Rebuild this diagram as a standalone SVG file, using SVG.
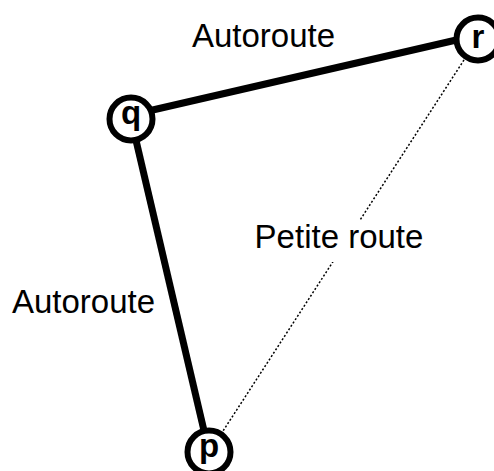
<svg xmlns="http://www.w3.org/2000/svg" width="494" height="471" viewBox="0 0 494 471">
<style>
.node circle{fill:#fff;stroke:#000;stroke-width:6}
.node text{font-family:"Liberation Sans",Arial,sans-serif;font-weight:bold;font-size:33px;text-anchor:middle;fill:#000}
.hw{stroke:#000;stroke-width:7;fill:none}
.sr{stroke:#000;stroke-width:1.5;stroke-dasharray:2,2;fill:none}
.lbl{font-family:"Liberation Sans",Arial,sans-serif;font-size:33px;text-anchor:middle;fill:#000}
</style>
<rect width="494" height="471" fill="#fff"/>
<g id="edges">
<line class="hw" x1="131" y1="115" x2="478" y2="35"/>
<line class="hw" x1="131" y1="119" x2="209" y2="452"/>
<line class="sr" x1="464" y1="60" x2="223" y2="431"/>
<rect x="252" y="220" width="176" height="42" fill="#fff"/>
<text class="lbl" x="263.5" y="47">Autoroute</text>
<text class="lbl" x="83.5" y="313">Autoroute</text>
<text class="lbl" x="339" y="248">Petite route</text>
</g>
<g id="q" class="node"><circle cx="131" cy="119" r="21.5"/><text x="131" y="124">q</text></g>
<g id="r" class="node"><circle cx="478" cy="39" r="21.5"/><text x="478" y="47.5">r</text></g>
<g id="p" class="node"><circle cx="209" cy="452" r="21.5"/><text x="209" y="457">p</text></g>
</svg>
